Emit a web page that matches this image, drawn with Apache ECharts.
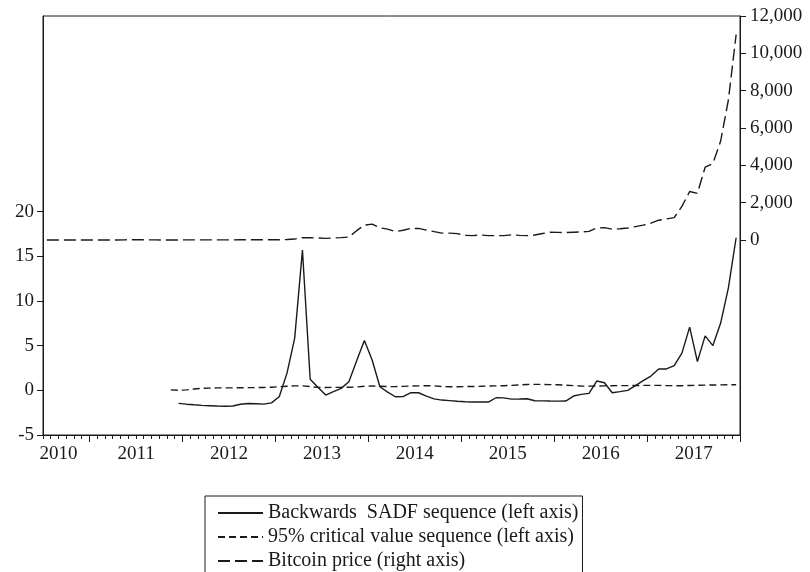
<!DOCTYPE html>
<html><head><meta charset="utf-8">
<script src="https://cdn.jsdelivr.net/npm/echarts@6/dist/echarts.min.js"></script>
<style>html,body{margin:0;padding:0;background:#fff}#c{width:810px;height:572px}</style>
</head><body><div id="c"></div>
<script>
// Monthly categories Jul 2010 - Dec 2017
const months = [
'2010-07','2010-08','2010-09','2010-10','2010-11','2010-12',
'2011-01','2011-02','2011-03','2011-04','2011-05','2011-06','2011-07','2011-08','2011-09','2011-10','2011-11','2011-12',
'2012-01','2012-02','2012-03','2012-04','2012-05','2012-06','2012-07','2012-08','2012-09','2012-10','2012-11','2012-12',
'2013-01','2013-02','2013-03','2013-04','2013-05','2013-06','2013-07','2013-08','2013-09','2013-10','2013-11','2013-12',
'2014-01','2014-02','2014-03','2014-04','2014-05','2014-06','2014-07','2014-08','2014-09','2014-10','2014-11','2014-12',
'2015-01','2015-02','2015-03','2015-04','2015-05','2015-06','2015-07','2015-08','2015-09','2015-10','2015-11','2015-12',
'2016-01','2016-02','2016-03','2016-04','2016-05','2016-06','2016-07','2016-08','2016-09','2016-10','2016-11','2016-12',
'2017-01','2017-02','2017-03','2017-04','2017-05','2017-06','2017-07','2017-08','2017-09','2017-10','2017-11','2017-12'];

// categories where a year label is placed
const xLabelCats = ['2010-08','2011-06','2012-06','2013-06','2014-06','2015-06','2016-06','2017-06'];

// Backwards SADF sequence (left axis)
const sadf = [
null,null,null,null,null,null,null,null,null,null,null,null,null,null,null,null,null,
-1.46,-1.55,-1.62,-1.68,-1.72,-1.76,-1.78,-1.76,-1.56,-1.48,-1.5,-1.54,-1.4,
-0.72,1.9,5.84,15.7,1.24,0.35,-0.53,-0.15,0.22,0.97,3.3,5.57,
3.4,0.4,-0.2,-0.72,-0.7,-0.27,-0.27,-0.65,-0.95,-1.09,-1.15,-1.22,
-1.28,-1.3,-1.31,-1.31,-0.83,-0.85,-0.98,-0.97,-0.94,-1.17,-1.18,-1.2,
-1.21,-1.2,-0.64,-0.45,-0.34,1.04,0.85,-0.27,-0.15,0,0.52,1.08,
1.6,2.39,2.39,2.76,4.16,7.08,3.21,6.1,5.01,7.53,11.46,17.08];

// 95% critical value sequence (left axis)
const crit = [
null,null,null,null,null,null,null,null,null,null,null,null,null,null,null,null,
0.05,0.0,0.05,0.15,0.22,0.25,0.27,0.28,0.28,0.29,0.3,0.31,0.32,0.35,
0.4,0.45,0.5,0.5,0.42,0.33,0.32,0.33,0.33,0.34,0.38,0.45,
0.48,0.45,0.42,0.42,0.44,0.48,0.5,0.52,0.5,0.42,0.4,0.4,
0.42,0.43,0.45,0.48,0.5,0.52,0.55,0.6,0.66,0.67,0.66,0.64,
0.62,0.58,0.52,0.48,0.47,0.48,0.5,0.52,0.53,0.53,0.54,0.55,
0.56,0.55,0.53,0.52,0.52,0.54,0.56,0.58,0.6,0.61,0.62,0.63];

// Bitcoin price (right axis)
const btc = [
0.06,0.07,0.06,0.1,0.25,0.25,
0.4,0.9,0.85,1.5,7,17,14,10,5.5,3.5,2.6,3.5,
6,5,4.9,5,5.1,6,8,11,11.5,11.5,11,13,
15,25,50,130,120,110,85,110,130,160,500,800,
850,650,580,450,520,620,620,530,450,370,370,340,
250,235,265,235,235,235,280,250,235,265,350,420,
410,400,415,430,460,640,660,580,605,640,720,800,
900,1060,1130,1200,1800,2600,2500,3900,4100,5300,7500,11000];

const leftTicks = [-5,0,5,10,15,20];
const rightTicks = [0,2000,4000,6000,8000,10000,12000];

const FONT = 'Liberation Serif';
const INK = '#1a1a1a';
const chart = echarts.init(document.getElementById('c'));
chart.setOption({
  animation:false,
  backgroundColor:'#fff',
  textStyle:{fontFamily:FONT,color:INK},
  grid:{left:43,right:70,top:16,bottom:137,show:true,borderColor:INK,borderWidth:1,backgroundColor:'transparent'},
  legend:{
    orient:'vertical',left:205,top:496,height:100,
    data:['Backwards  SADF sequence (left axis)','95% critical value sequence (left axis)','Bitcoin price (right axis)'],
    itemWidth:45,itemHeight:14,itemGap:4,
    padding:[7,4,12,12],
    borderColor:INK,borderWidth:1,
    itemStyle:{opacity:0},
    textStyle:{fontFamily:FONT,fontSize:20,color:INK},
    selectedMode:false
  },
  xAxis:[{
    type:'category',data:months,boundaryGap:true,position:'bottom',
    axisLine:{show:true,onZero:false,lineStyle:{color:INK,width:1}},
    axisTick:{show:true,length:7,interval:(i,v)=>v.endsWith('-01'),lineStyle:{color:INK}},
    axisLabel:{interval:(i,v)=>xLabelCats.indexOf(v)>=0,formatter:v=>v.slice(0,4),
      fontFamily:FONT,fontSize:19,color:INK,margin:10,padding:[0,0,0,8]},
    splitLine:{show:false}
  },{
    type:'category',data:months,boundaryGap:true,position:'bottom',
    axisLine:{show:false,onZero:false},
    axisTick:{show:true,length:4,interval:0,lineStyle:{color:INK}},
    axisLabel:{show:false},splitLine:{show:false}
  }],
  yAxis:[{
    type:'value',min:-5,max:41.9,position:'left',
    axisLine:{show:true,onZero:false,lineStyle:{color:INK}},
    axisTick:{show:true,length:6,customValues:leftTicks,lineStyle:{color:INK}},
    axisLabel:{customValues:leftTicks,fontFamily:FONT,fontSize:19,color:INK,margin:9},
    splitLine:{show:false}
  },{
    type:'value',min:-10446,max:12000,position:'right',
    axisLine:{show:true,onZero:false,lineStyle:{color:INK}},
    axisTick:{show:true,length:6,customValues:rightTicks,lineStyle:{color:INK}},
    axisLabel:{customValues:rightTicks,fontFamily:FONT,fontSize:19,color:INK,margin:10,
      formatter:v=>v.toLocaleString('en-US')},
    splitLine:{show:false}
  }],
  series:[{
    name:'Backwards  SADF sequence (left axis)',type:'line',data:sadf,yAxisIndex:0,
    symbol:'none',lineStyle:{color:INK,width:1.4,type:'solid'},itemStyle:{color:INK}
  },{
    name:'95% critical value sequence (left axis)',type:'line',data:crit,yAxisIndex:0,
    symbol:'none',lineStyle:{color:INK,width:1.4,type:[7,4]},itemStyle:{color:INK}
  },{
    name:'Bitcoin price (right axis)',type:'line',data:btc,yAxisIndex:1,
    symbol:'none',lineStyle:{color:INK,width:1.4,type:[12,5]},itemStyle:{color:INK}
  }]
});
</script></body></html>
